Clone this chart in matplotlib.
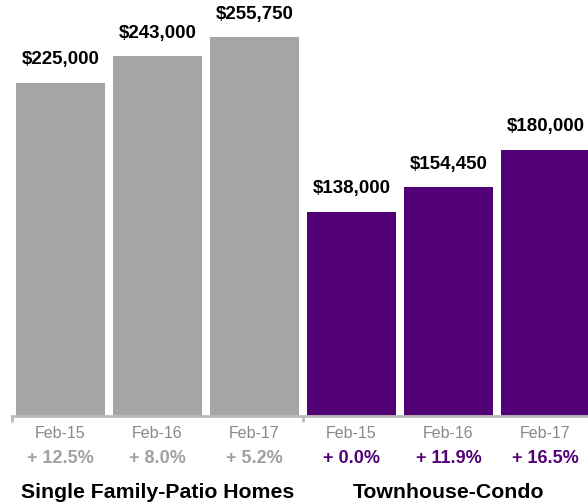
import matplotlib.pyplot as plt

plt.rcParams['font.family'] = ['Liberation Sans', 'DejaVu Sans']

groups = ["Single Family-Patio Homes", "Townhouse-Condo"]
periods = ["Feb-15", "Feb-16", "Feb-17"]
single_family = [225000, 243000, 255750]
townhouse = [138000, 154450, 180000]
sf_change = ["+ 12.5%", "+ 8.0%", "+ 5.2%"]
th_change = ["+ 0.0%", "+ 11.9%", "+ 16.5%"]

gray = "#a5a5a5"
purple = "#520076"

fig = plt.figure(figsize=(5.88, 5.04), dpi=100)
ax = fig.add_axes([0, 88 / 504, 1, 416 / 504])

values = single_family + townhouse
colors = [gray] * 3 + [purple] * 3
xs = list(range(len(values)))
ax.bar(xs, values, width=0.918, color=colors)

for x, v in zip(xs, values):
    ax.annotate(f"${v:,}", (x, v), xytext=(0, 10.5), textcoords="offset points",
                ha="center", va="bottom", fontsize=13.5, fontweight="bold")

ax.set_xlim(-0.624, 5.438)
ax.set_ylim(0, 281000)

for s in ["top", "left", "right"]:
    ax.spines[s].set_visible(False)
ax.spines["bottom"].set_color("#bbbbbb")
ax.spines["bottom"].set_linewidth(2)
ax.spines["bottom"].set_bounds(-0.5, 5.6)
ax.set_yticks([])
ax.set_xticks([-0.5, 2.5])
ax.set_xticklabels(["", ""])
ax.tick_params(axis="x", length=4, width=2, color="#bbbbbb")

tr = ax.get_xaxis_transform()
labels = periods + periods
changes = sf_change + th_change
for x, lab, ch, c in zip(xs, labels, changes, colors):
    ax.text(x, -0.041, lab, transform=tr, ha="center", va="center",
            fontsize=11.5, color="#888888")
    ax.text(x, -0.103, ch, transform=tr, ha="center", va="center",
            fontsize=13, fontweight="bold", color=c if c == purple else "#a0a0a0")

ax.text(1, -0.183, groups[0], transform=tr, ha="center", va="center",
        fontsize=15.3, fontweight="bold")
ax.text(4, -0.183, groups[1], transform=tr, ha="center", va="center",
        fontsize=15.3, fontweight="bold")

fig.savefig("out.png", dpi=100)
